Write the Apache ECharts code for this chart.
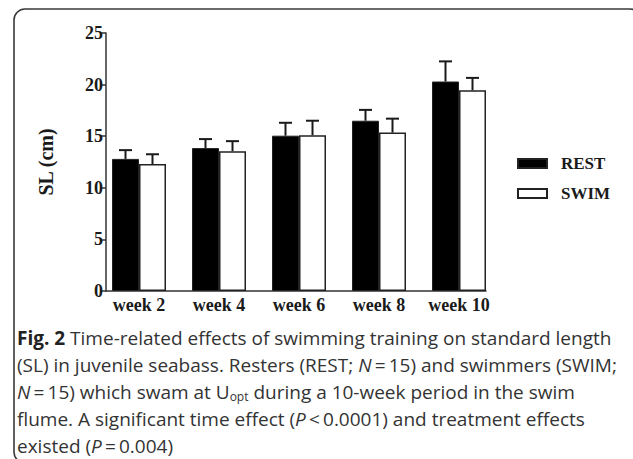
<!DOCTYPE html>
<html>
<head>
<meta charset="utf-8">
<script src="https://cdn.jsdelivr.net/npm/echarts@6/dist/echarts.min.js"></script>
<style>
html,body{margin:0;padding:0;background:#fff;}
#chart{width:633px;height:459px;}
</style>
</head>
<body>
<div id="chart"></div>
<script>
const categories = ['week 2', 'week 4', 'week 6', 'week 8', 'week 10'];
const restMean = [12.8, 13.85, 15.05, 16.5, 20.3];
const restErr  = [0.85, 0.87, 1.25, 1.05, 1.95];
const swimMean = [12.3, 13.55, 15.1, 15.35, 19.45];
const swimErr  = [0.95, 0.97, 1.4, 1.35, 1.2];
const yMin = 0, yMax = 25, yStep = 5;
const seriesNames = ['REST', 'SWIM'];
const yName = 'SL (cm)';
const captionLines = [
  '{b|Fig. 2} Time-related effects of swimming training on standard length',
  '(SL) in juvenile seabass. Resters (REST; {i|N}\u2009=\u200915) and swimmers (SWIM;',
  '{i|N}\u2009=\u200915) which swam at U{sub|opt} during a 10-week period in the swim',
  'flume. A significant time effect ({i|P}\u2009<\u20090.0001) and treatment effects',
  'existed ({i|P}\u2009=\u20090.004)'
];

const BAR_W = 27;
const serif = '"Liberation Serif", "DejaVu Serif", serif';
const capFont = '"Open Sans", "Noto Sans", sans-serif';
const CAP_FS = 19;
const CAP_LH = 27;

function errItem(offset) {
  return function (params, api) {
    const base = api.coord([api.value(0), api.value(1)]);
    const top = api.coord([api.value(0), api.value(2)]);
    const x = base[0] + offset;
    const st = { stroke: '#1a1a1a', lineWidth: 2 };
    return {
      type: 'group',
      children: [
        { type: 'line', shape: { x1: x, y1: base[1], x2: x, y2: top[1] }, style: st },
        { type: 'line', shape: { x1: x - 6.5, y1: top[1], x2: x + 6.5, y2: top[1] }, style: st }
      ]
    };
  };
}

const chart = echarts.init(document.getElementById('chart'), null, { renderer: 'svg' });
chart.setOption({
  animation: false,
  backgroundColor: '#fff',
  grid: [
    { left: 99, right: 134, top: 33, bottom: 168 },
    { left: 106, right: 147, top: 33, bottom: 168 }
  ],
  legend: {
    data: seriesNames,
    orient: 'vertical',
    left: 512,
    top: 150,
    itemWidth: 29,
    itemHeight: 9,
    itemGap: 13,
    icon: 'rect',
    textStyle: { fontFamily: serif, fontWeight: 'bold', fontSize: 17, color: '#1a1a1a', lineHeight: 17, padding: [0, 0, 0, 9] }
  },
  xAxis: [
    {
      gridIndex: 0, type: 'category', data: categories,
      axisLine: { show: false }, axisTick: { show: false },
      axisLabel: { fontFamily: serif, fontWeight: 'bold', fontSize: 18, color: '#1a1a1a', margin: 5 }
    },
    {
      gridIndex: 1, type: 'value', min: 0, max: 1,
      axisLine: { show: true, lineStyle: { color: '#333', width: 1.5 } },
      axisTick: { show: false }, axisLabel: { show: false }, splitLine: { show: false }
    }
  ],
  yAxis: [
    { gridIndex: 0, type: 'value', min: yMin, max: yMax, interval: yStep, show: false },
    {
      gridIndex: 1, type: 'value', min: yMin, max: yMax, interval: yStep,
      name: yName, nameLocation: 'middle', nameRotate: 90, nameGap: 50,
      nameTextStyle: { fontFamily: serif, fontWeight: 'bold', fontSize: 20, color: '#1a1a1a' },
      axisLine: { show: true, lineStyle: { color: '#333', width: 1.5 } },
      axisTick: { show: true, length: 6, lineStyle: { color: '#333', width: 1.5 } },
      axisLabel: { fontFamily: serif, fontWeight: 'bold', fontSize: 18, color: '#1a1a1a', margin: 3 },
      splitLine: { show: false }
    }
  ],
  series: [
    {
      name: seriesNames[0], type: 'bar', xAxisIndex: 0, yAxisIndex: 0,
      data: restMean, barWidth: BAR_W, barGap: '0%',
      itemStyle: { color: '#000', borderColor: '#222', borderWidth: 1 }
    },
    {
      name: seriesNames[1], type: 'bar', xAxisIndex: 0, yAxisIndex: 0,
      data: swimMean, barWidth: BAR_W, barGap: '0%',
      itemStyle: { color: '#fff', borderColor: '#222', borderWidth: 1.5 }
    },
    {
      type: 'custom', xAxisIndex: 0, yAxisIndex: 0, z: 5,
      renderItem: errItem(-BAR_W / 2),
      data: restMean.map((m, i) => [i, m, m + restErr[i]])
    },
    {
      type: 'custom', xAxisIndex: 0, yAxisIndex: 0, z: 5,
      renderItem: errItem(BAR_W / 2),
      data: swimMean.map((m, i) => [i, m, m + swimErr[i]])
    }
  ],
  graphic: [
    {
      type: 'rect', z: -1, silent: true,
      shape: { x: 14, y: 9, width: 627, height: 454, r: 11 },
      style: { fill: 'none', stroke: '#3a3a3a', lineWidth: 1.6 }
    },
    {
      type: 'text', left: 17, top: 324, silent: true,
      style: {
        text: captionLines.join('\n'),
        font: CAP_FS + 'px ' + capFont,
        fill: '#333',
        lineHeight: CAP_LH,
        rich: {
          b: { fontFamily: capFont, fontWeight: 'bold', fontSize: CAP_FS, fill: '#222', lineHeight: CAP_LH },
          i: { fontFamily: capFont, fontStyle: 'italic', fontSize: CAP_FS, fill: '#333', lineHeight: CAP_LH },
          sub: { fontFamily: capFont, fontSize: 12, fill: '#333', lineHeight: CAP_LH, padding: [10, 0, 0, 0] }
        }
      }
    }
  ]
});
</script>
</body>
</html>
